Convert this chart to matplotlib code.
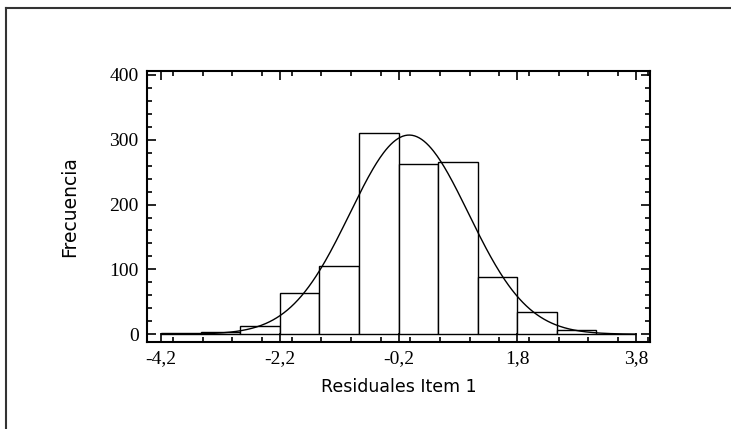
"""Histogram of residuals (Item 1) with fitted normal curve."""

import numpy as np
import matplotlib
matplotlib.use('Agg')
import matplotlib.pyplot as plt
from matplotlib.lines import Line2D
from matplotlib.ticker import MultipleLocator, FixedLocator, FixedFormatter

# bin edges and counts
bin_edges = [-4.2, -3.5333, -2.8667, -2.2, -1.5333, -0.8667, -0.2,
             0.4667, 1.1333, 1.8, 2.4667, 3.1333, 3.8]
counts = [2, 4, 13, 63, 105, 310, 262, 265, 88, 35, 7, 1]

# fitted normal curve parameters
fit_mean = -0.02
fit_sd = 1.0

x_ticks = [-4.2, -2.2, -0.2, 1.8, 3.8]
x_tick_labels = ['-4,2', '-2,2', '-0,2', '1,8', '3,8']
y_ticks = [0, 100, 200, 300, 400]
y_tick_labels = ['0', '100', '200', '300', '400']

plt.rcParams['font.family'] = ['Liberation Serif']

fig = plt.figure(figsize=(7.31, 4.29), dpi=100)
ax = fig.add_axes([147/731, 1 - 342/429, (650 - 147)/731, (342 - 71)/429])

# bars
lefts = np.array(bin_edges[:-1])
widths = np.diff(bin_edges)
ax.bar(lefts, counts, width=widths, align='edge', facecolor='white',
       edgecolor='black', linewidth=1.0)

# normal curve scaled to counts
n_total = sum(counts)
xs = np.linspace(bin_edges[0], bin_edges[-1], 400)
ys = n_total * widths[0] * np.exp(-0.5*((xs - fit_mean)/fit_sd)**2) / (fit_sd*np.sqrt(2*np.pi))
ax.plot(xs, ys, color='black', linewidth=1.0)

ax.set_xlim(-4.44, 4.04)
ax.set_ylim(-12, 406)

ax.xaxis.set_major_locator(FixedLocator(x_ticks))
ax.xaxis.set_major_formatter(FixedFormatter(x_tick_labels))
ax.xaxis.set_minor_locator(MultipleLocator(0.5))
ax.yaxis.set_major_locator(FixedLocator(y_ticks))
ax.yaxis.set_major_formatter(FixedFormatter(y_tick_labels))
ax.yaxis.set_minor_locator(MultipleLocator(20))

ax.tick_params(which='both', direction='in', top=True, right=True, width=1.2,
               labelsize=14)
ax.tick_params(which='major', length=6.5)
ax.tick_params(which='minor', length=3.5)
ax.tick_params(axis='x', pad=6)
ax.tick_params(axis='y', pad=6)
for sp in ax.spines.values():
    sp.set_linewidth(1.5)

ax.set_xlabel('Residuales Item 1', fontsize=12.5, family='DejaVu Sans', labelpad=8)
ax.set_ylabel('Frecuencia', fontsize=13.5, family='DejaVu Sans', labelpad=22)

# frame around the figure (left and top edges visible only)
fig.add_artist(Line2D([6/731, 6/731], [0, 1 - 8/429], transform=fig.transFigure,
                      color='#333333', linewidth=1.5))
fig.add_artist(Line2D([6/731, 1], [1 - 8/429, 1 - 8/429], transform=fig.transFigure,
                      color='#333333', linewidth=1.5))

fig.savefig('out.png', dpi=100)
